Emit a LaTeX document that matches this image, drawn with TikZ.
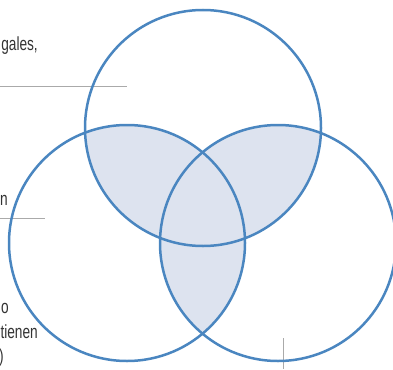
\documentclass[tikz,border=0pt]{standalone}
\usepackage{fontspec}
\setmainfont[FakeStretch=0.72]{Liberation Sans}
\definecolor{vennblue}{RGB}{74,134,192}
\definecolor{vennfill}{RGB}{221,227,239}
\definecolor{leadgray}{RGB}{170,170,170}
\definecolor{textgray}{RGB}{51,51,51}
\tikzset{
  ring/.style={draw=vennblue, line width=2.5pt},
  lap/.style={fill=vennfill},
  leader/.style={draw=leadgray, line width=1pt},
  caption/.style={
    anchor=base east,
    inner sep=0pt,
    text=textgray,
    font=\fontsize{19pt}{23pt}\selectfont
  }
}
\newcommand{\vennrad}{118pt}
\begin{document}
\begin{tikzpicture}[x=1pt, y=-1pt]
  \useasboundingbox (0,0) rectangle (393,369);
  \coordinate (ctop) at (203,128);
  \coordinate (cleft) at (127,243);
  \coordinate (cright) at (278,243);
  \begin{scope}
    \clip (ctop) circle (\vennrad);
    \fill[lap] (cleft) circle (\vennrad);
    \fill[lap] (cright) circle (\vennrad);
  \end{scope}
  \begin{scope}
    \clip (cleft) circle (\vennrad);
    \fill[lap] (cright) circle (\vennrad);
  \end{scope}
  \coordinate (lead1a) at (0,86);
  \coordinate (lead1b) at (127,86);
  \coordinate (lead2a) at (0,218);
  \coordinate (lead2b) at (45,218);
  \coordinate (lead3a) at (283,338);
  \coordinate (lead3b) at (283,369);
  \draw[leader] (lead1a) -- (lead1b);
  \draw[leader] (lead2a) -- (lead2b);
  \draw[leader] (lead3a) -- (lead3b);
  \draw[ring] (ctop) circle (\vennrad);
  \draw[ring] (cleft) circle (\vennrad);
  \draw[ring] (cright) circle (\vennrad);
  \node[caption] (txtgales) at (38,50) {gales,};
  \node[caption] (txtn) at (8,205) {n};
  \node[caption] (txto) at (9,313) {o};
  \node[caption] (txttienen) at (38,338) {tienen};
  \node[caption] (txtparen) at (4,362) {)};
\end{tikzpicture}
\end{document}
